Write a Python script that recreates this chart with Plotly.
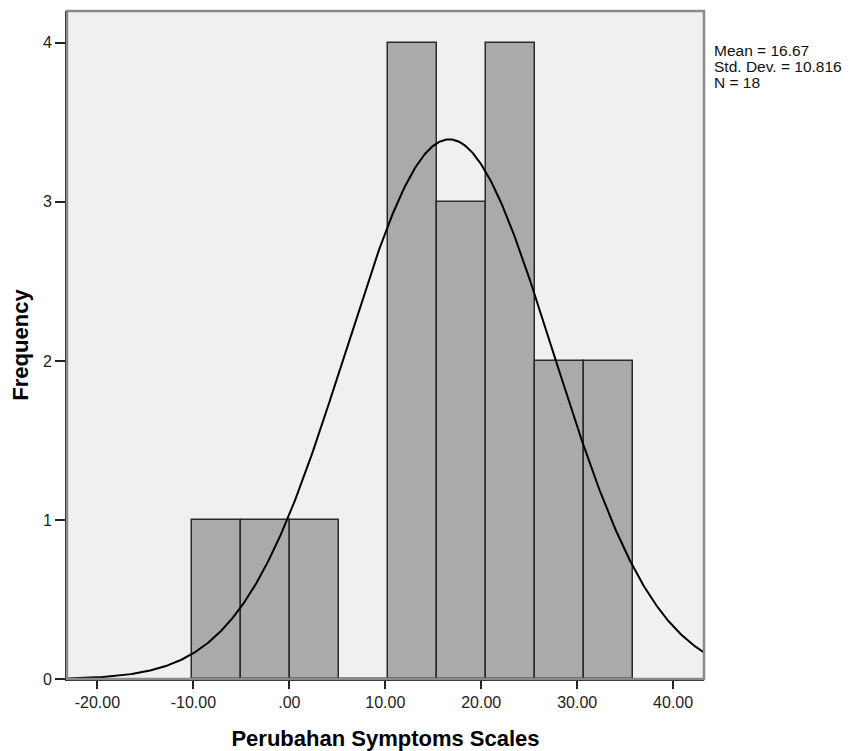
import numpy as np
import plotly.graph_objects as go

# ---- data ----
bin_edges = [-10.14, -5.03, 0.08, 5.19, 10.30, 15.41, 20.52, 25.63, 30.74, 35.85]
counts = [1, 1, 1, 0, 4, 3, 4, 2, 2]
mean_val = 16.67
sd_val = 10.816
n_val = 18
x_ticks = [-20, -10, 0, 10, 20, 30, 40]
x_tick_labels = ["-20.00", "-10.00", ".00", "10.00", "20.00", "30.00", "40.00"]
y_ticks = [0, 1, 2, 3, 4]
stats_lines = ["Mean = 16.67", "Std. Dev. = 10.816", "N = 18"]

x_range = [-23.17, 43.22]
y_range = [0, 4.2]

centers = [(bin_edges[i] + bin_edges[i + 1]) / 2 for i in range(len(counts))]
widths = [bin_edges[i + 1] - bin_edges[i] for i in range(len(counts))]
bw = float(np.mean(widths))

# normal curve from the stated statistics
xc = np.linspace(x_range[0], x_range[1], 600)
yc = n_val * bw / (sd_val * np.sqrt(2 * np.pi)) * np.exp(-0.5 * ((xc - mean_val) / sd_val) ** 2)

FONT = "Liberation Sans, Arial, sans-serif"

fig = go.Figure()
fig.add_trace(go.Bar(
    x=centers, y=counts, width=widths,
    marker=dict(color="#aaaaaa", line=dict(color="#2a2a2a", width=1.5)),
    hoverinfo="skip", showlegend=False,
))
fig.add_trace(go.Scatter(
    x=xc, y=yc, mode="lines",
    line=dict(color="black", width=2),
    hoverinfo="skip", showlegend=False,
))

# frame: grey top/right border
fig.add_shape(type="rect", xref="paper", yref="paper", x0=0, x1=1, y0=0, y1=1,
              line=dict(color="#8a8a8a", width=2.5), layer="above")

fig.update_layout(
    width=854, height=751,
    margin=dict(l=67, r=150, t=11, b=72, pad=0),
    paper_bgcolor="white",
    plot_bgcolor="#f0f0f0",
    bargap=0,
    font=dict(family=FONT, color="black"),
    xaxis=dict(
        range=x_range, tickmode="array", tickvals=x_ticks, ticktext=x_tick_labels,
        ticks="outside", ticklen=8, tickwidth=1.5, tickcolor="#222",
        showline=True, linecolor="#222", linewidth=2, showgrid=False, zeroline=False,
        tickfont=dict(size=16, family=FONT, color="#222"),
        automargin=False,
        title=dict(text="<b>Perubahan Symptoms Scales</b>", font=dict(size=22, family=FONT, color="black"),
                   standoff=20),
    ),
    yaxis=dict(
        range=y_range, tickmode="array", tickvals=y_ticks,
        ticks="outside", ticklen=10, tickwidth=1.5, tickcolor="#222",
        showline=True, linecolor="#222", linewidth=2, showgrid=False, zeroline=False,
        tickfont=dict(size=16, family=FONT, color="#222"),
        automargin=False,
        title=dict(text="<b>Frequency</b>", font=dict(size=22, family=FONT, color="black"),
                   standoff=8),
    ),
)

# statistics box, one annotation per line for tight spacing
plot_top, plot_h = 11.0, 668.0
line_centers_px = [50.0, 66.5, 83.0]
for txt, py in zip(stats_lines, line_centers_px):
    fig.add_annotation(
        text=txt, xref="paper", yref="paper",
        x=(712 - 67) / 637.0, y=1 - (py - plot_top) / plot_h,
        xanchor="left", yanchor="middle", showarrow=False,
        font=dict(size=15.5, family=FONT, color="#111"),
    )

fig.write_html("out.html")
